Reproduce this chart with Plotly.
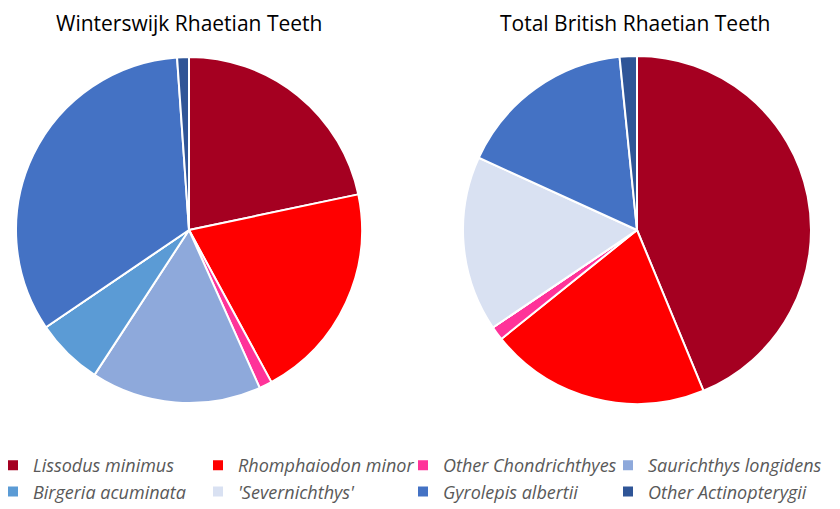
import plotly.graph_objects as go

labels = ["Lissodus minimus", "Rhomphaiodon minor", "Other Chondrichthyes",
          "Saurichthys longidens", "Birgeria acuminata", "'Severnichthys'",
          "Gyrolepis albertii", "Other Actinopterygii"]
winterswijk = [21.7, 20.4, 1.2, 15.9, 6.3, 0, 33.4, 1.1]
british = [43.8, 20.5, 1.3, 0, 0, 16.3, 16.6, 1.6]
colors = ["#A50021", "#FF0000", "#FF3399", "#8EA9DB", "#5B9BD5", "#D9E1F2",
          "#4472C4", "#2F5597"]
titles = ["Winterswijk Rhaetian Teeth", "Total British Rhaetian Teeth"]

W, H = 840, 509
OFF = 8  # page body margin


def dom(cx, cy, r):
    cx -= OFF
    cy -= OFF
    return dict(x=[(cx - r) / W, (cx + r) / W], y=[1 - (cy + r) / H, 1 - (cy - r) / H])


fig = go.Figure()
for vals, d in [(winterswijk, dom(189, 230, 173)), (british, dom(637, 230, 174))]:
    fig.add_trace(go.Pie(
        labels=labels, values=vals, sort=False, direction="clockwise", rotation=0,
        marker=dict(colors=colors, line=dict(color="white", width=2)),
        textinfo="none", hoverinfo="label+percent", domain=d,
    ))

for t, cx in zip(titles, [188.5, 634.7]):
    fig.add_annotation(text=t, x=(cx - OFF) / W, y=1, xref="paper", yref="paper",
                       showarrow=False, font=dict(size=21, color="black", family="Open Sans"),
                       xanchor="center", yanchor="top", borderpad=0)

fig.update_layout(
    width=W, height=H, paper_bgcolor="white", plot_bgcolor="white",
    margin=dict(l=0, r=0, t=0, b=0),
    legend=dict(orientation="h", x=0, y=1 - 439 / H, yanchor="top", xanchor="left",
                entrywidth=175, entrywidthmode="pixels", indentation=-15,
                font=dict(size=18, color="#595959", family="Open Sans", style="italic"),
                traceorder="normal"),
)
fig.write_html("out.html")
